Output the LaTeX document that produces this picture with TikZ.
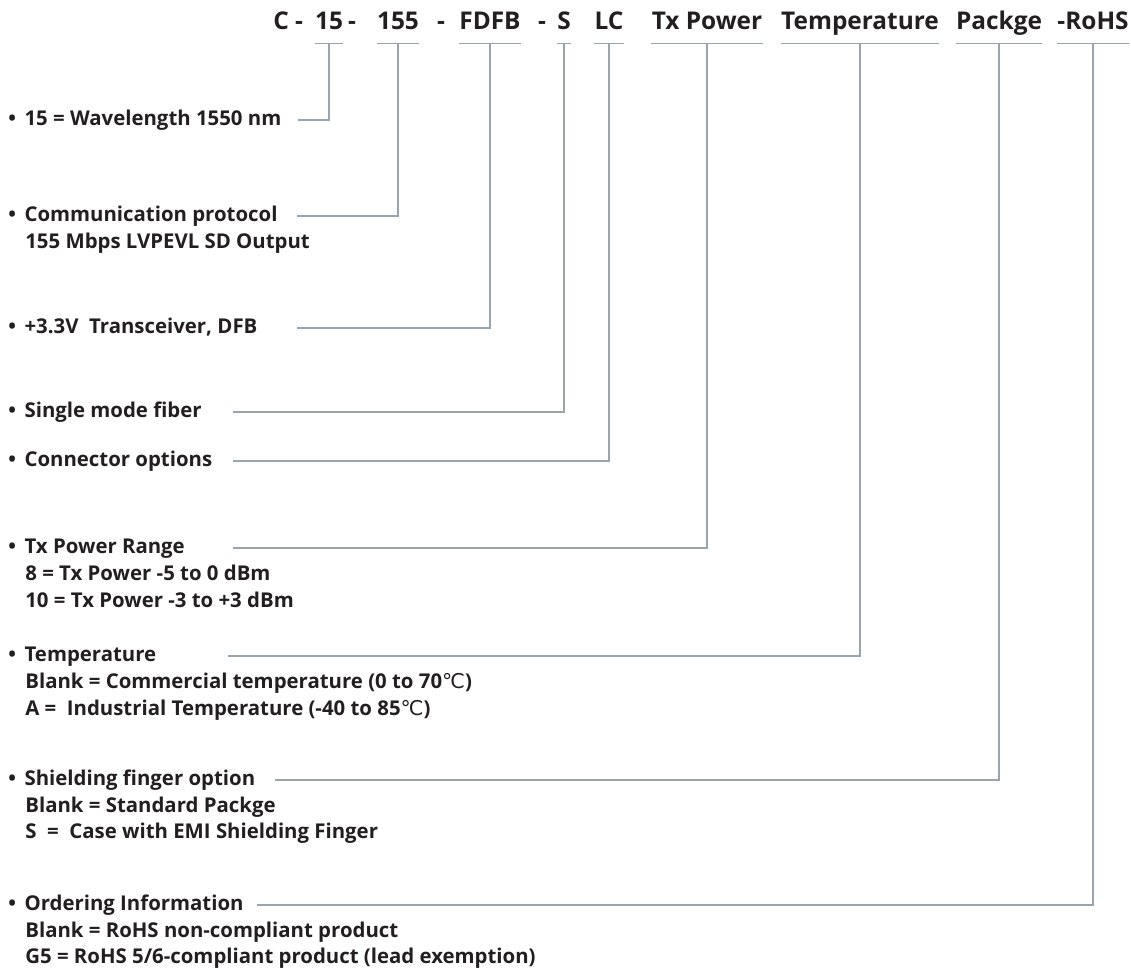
\documentclass[tikz,border=0pt]{standalone}
\usepackage{fontspec}
\setmainfont{Open Sans}
\newfontfamily\dejavu{DejaVu Sans}
\usepackage{xcolor}
\usetikzlibrary{positioning}

\definecolor{inkblack}{HTML}{231F20}
\definecolor{leadgray}{HTML}{98A4AE}
\newcommand{\tempunit}{{\dejavu\mdseries ℃}}
\newcommand{\bul}{•\hspace{0.42em}}

\tikzset{
    hdr/.style={font=\fontsize{13.9}{16}\selectfont\bfseries, text=inkblack, inner sep=0pt, text depth=8pt, anchor=base},
    item/.style={font=\fontsize{11.6}{15.4}\selectfont\bfseries, text=inkblack, inner sep=0pt, text height=8pt, text depth=2.3pt, anchor=base west},
    sub/.style={item},
    lead/.style={draw=leadgray, line width=0.85pt}
}

\begin{document}
\begin{tikzpicture}[x=0.02cm, y=-0.02cm]
            \useasboundingbox (0,0) rectangle (1131,971);

            % part number
            \node[hdr, anchor=base west] (hC) at (273,29) {C -};
            \node[hdr] (h15) at (329,29) {15};
            \node[hdr] (hdashA) at (352,29) {-};
            \node[hdr] (h155) at (398,29) {155};
            \node[hdr] (hdashB) at (441,29) {-};
            \node[hdr] (hfdfb) at (490,29) {FDFB};
            \node[hdr] (hdashC) at (542,29) {-};
            \node[hdr] (hs) at (564,29) {S};
            \node[hdr] (hlc) at (609,29) {LC};
            \node[hdr] (htx) at (707,29) {Tx Power};
            \node[hdr] (htemp) at (860,29) {Temperature};
            \node[hdr] (hpack) at (999,29) {Packge};
            \node[hdr] (hrohs) at (1093,29) {-RoHS};

            \draw[lead](h15.south west)--(h15.south east);
            \draw[lead](h155.south west)--(h155.south east);
            \draw[lead](hfdfb.south west)--(hfdfb.south east);
            \draw[lead](hs.south west)--(hs.south east);
            \draw[lead](hlc.south west)--(hlc.south east);
            \draw[lead](htx.south west)--(htx.south east);
            \draw[lead](htemp.south west)--(htemp.south east);
            \draw[lead](hpack.south west)--(hpack.south east);
            \draw[lead](hrohs.south west)--(hrohs.south east);

            % descriptions
            \node[item] (dwave) at (8,125) {\bul 15 = Wavelength 1550 nm};

            \node[item] (dproto) at (8,221) {\bul Communication protocol};
            \node[sub] (dproto1) at (25,248) {155 Mbps LVPEVL SD Output};

            \node[item] (dtrx) at (8,333) {\bul +3.3V\ \ Transceiver, DFB};

            \node[item] (dfiber) at (8,417) {\bul Single mode fiber};

            \node[item] (dconn) at (8,466) {\bul Connector options};

            \node[item] (dpower) at (8,553) {\bul Tx Power Range};
            \node[sub] (dpower1) at (25,580) {8 = Tx Power -5 to 0 dBm};
            \node[sub] (dpower2) at (25,607) {10 = Tx Power -3 to +3 dBm};

            \node[item] (dtemp) at (8,661) {\bul Temperature};
            \node[sub] (dtemp1) at (25,688) {Blank = Commercial temperature (0 to 70\tempunit)};
            \node[sub] (dtemp2) at (25,715) {A =\ \ Industrial Temperature (-40 to 85\tempunit)};

            \node[item] (dshield) at (8,785) {\bul Shielding finger option};
            \node[sub] (dshield1) at (25,812) {Blank = Standard Packge};
            \node[sub] (dshield2) at (25,838) {S\ \ =\ \ Case with EMI Shielding Finger};

            \node[item] (dorder) at (8,910) {\bul Ordering Information};
            \node[sub] (dorder1) at (25,937) {Blank = RoHS non-compliant product};
            \node[sub] (dorder2) at (25,963) {G5 = RoHS 5/6-compliant product (lead exemption)};

            % leaders
            \draw[lead](dwave.east -| 298,0)-|(h15.south);
            \draw[lead](dproto.east -| 297,0)-|(h155.south);
            \draw[lead](dtrx.east -| 297,0)-|(hfdfb.south);
            \draw[lead](dfiber.east -| 233,0)-|(hs.south);
            \draw[lead](dconn.east -| 233,0)-|(hlc.south);
            \draw[lead](dpower.east -| 233,0)-|(htx.south);
            \draw[lead](dtemp.east -| 228,0)-|(htemp.south);
            \draw[lead](dshield.east -| 275,0)-|(hpack.south);
            \draw[lead](dorder.east -| 257,0)-|(hrohs.south);

        \end{tikzpicture}
\end{document}
